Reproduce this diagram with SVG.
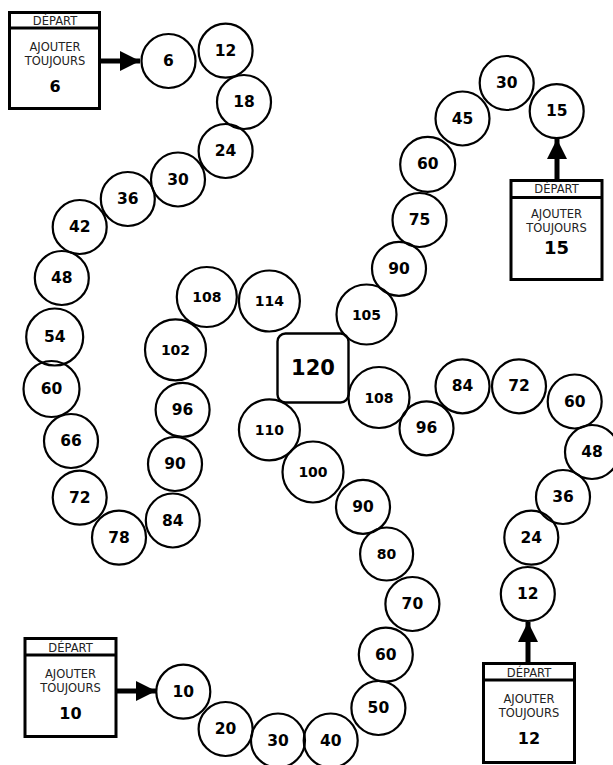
<svg xmlns="http://www.w3.org/2000/svg" width="613" height="765" viewBox="0 0 613 765">
<style>
.c{fill:none;stroke:#000;stroke-width:2.2}
.t{font-family:"DejaVu Sans",Verdana,sans-serif;font-weight:bold;font-size:15.5px;text-anchor:middle;dominant-baseline:central;fill:#000}
.t3{font-family:"DejaVu Sans",Verdana,sans-serif;font-weight:bold;font-size:14px;text-anchor:middle;dominant-baseline:central;fill:#000}
.box{fill:#fff;stroke:#000;stroke-width:3}
.hd{font-family:"DejaVu Sans",Verdana,sans-serif;font-size:11.5px;text-anchor:middle;fill:#222}
.lb{font-family:"DejaVu Sans",Verdana,sans-serif;font-size:11.5px;text-anchor:middle;fill:#222}
.num{font-family:"DejaVu Sans",Verdana,sans-serif;font-weight:bold;font-size:16px;text-anchor:middle;fill:#000}
.ar{stroke:#000;stroke-width:5;fill:none}
</style>
<defs>
<marker id="ah" markerWidth="4" markerHeight="4" refX="4" refY="2" orient="auto" markerUnits="strokeWidth">
<path d="M0,0 L4,2 L0,4 Z" fill="#000"/>
</marker>
</defs>
<rect width="613" height="765" fill="#fff"/>

<g id="connectors">
<line class="ar" x1="100" y1="61" x2="140" y2="61" marker-end="url(#ah)"/>
<line class="ar" x1="557" y1="180" x2="557" y2="139" marker-end="url(#ah)"/>
<line class="ar" x1="117" y1="691" x2="156" y2="691" marker-end="url(#ah)"/>
<line class="ar" x1="528" y1="663" x2="528" y2="622" marker-end="url(#ah)"/>
</g>

<g id="start6">
<rect class="box" x="9.5" y="12.5" width="90" height="96"/>
<line x1="9.5" y1="28" x2="99.5" y2="28" stroke="#000" stroke-width="3"/>
<text class="hd" x="55" y="25">DÉPART</text>
<text class="lb" x="55" y="51">AJOUTER</text>
<text class="lb" x="55" y="65">TOUJOURS</text>
<text class="num" x="55" y="92">6</text>
</g>
<g id="start15">
<rect class="box" x="511" y="180.5" width="91" height="99"/>
<line x1="511" y1="197.5" x2="602" y2="197.5" stroke="#000" stroke-width="3"/>
<text class="hd" x="556.5" y="193">DÉPART</text>
<text class="lb" x="556.5" y="218">AJOUTER</text>
<text class="lb" x="556.5" y="232">TOUJOURS</text>
<text class="num" x="556.5" y="254" style="font-size:18px">15</text>
</g>
<g id="start10">
<rect class="box" x="25" y="638.5" width="91" height="98"/>
<line x1="25" y1="655" x2="116" y2="655" stroke="#000" stroke-width="3"/>
<text class="hd" x="70.5" y="652">DÉPART</text>
<text class="lb" x="70.5" y="678">AJOUTER</text>
<text class="lb" x="70.5" y="692">TOUJOURS</text>
<text class="num" x="70.5" y="719">10</text>
</g>
<g id="start12">
<rect class="box" x="483.5" y="663.5" width="91" height="99"/>
<line x1="483.5" y1="680" x2="574.5" y2="680" stroke="#000" stroke-width="3"/>
<text class="hd" x="529" y="677">DÉPART</text>
<text class="lb" x="529" y="703">AJOUTER</text>
<text class="lb" x="529" y="717">TOUJOURS</text>
<text class="num" x="529" y="744">12</text>
</g>

<g id="center">
<rect x="277.5" y="333.5" width="71" height="69" rx="8" fill="none" stroke="#000" stroke-width="2.4"/>
<text class="t" x="313" y="368" style="font-size:21px">120</text>
</g>

<g id="path6">
<g id="n6a"><circle class="c" cx="168.5" cy="61" r="27"/><text class="t" x="168.5" y="61">6</text></g>
<g id="n6b"><circle class="c" cx="225.6" cy="50.7" r="27"/><text class="t" x="225.6" y="50.7">12</text></g>
<g id="n6c"><circle class="c" cx="244" cy="102" r="27"/><text class="t" x="244" y="102">18</text></g>
<g id="n6d"><circle class="c" cx="225.6" cy="151" r="27"/><text class="t" x="225.6" y="151">24</text></g>
<g id="n6e"><circle class="c" cx="178" cy="179.5" r="27"/><text class="t" x="178" y="179.5">30</text></g>
<g id="n6f"><circle class="c" cx="127.8" cy="199" r="27"/><text class="t" x="127.8" y="199">36</text></g>
<g id="n6g"><circle class="c" cx="79.7" cy="227" r="27"/><text class="t" x="79.7" y="227">42</text></g>
<g id="n6h"><circle class="c" cx="61.8" cy="278" r="27"/><text class="t" x="61.8" y="278">48</text></g>
<g id="n6i"><circle class="c" cx="54.7" cy="337" r="28.5"/><text class="t" x="54.7" y="337">54</text></g>
<g id="n6j"><circle class="c" cx="51.5" cy="389" r="28"/><text class="t" x="51.5" y="389">60</text></g>
<g id="n6k"><circle class="c" cx="71" cy="441" r="27"/><text class="t" x="71" y="441">66</text></g>
<g id="n6l"><circle class="c" cx="79.7" cy="497.6" r="27"/><text class="t" x="79.7" y="497.6">72</text></g>
<g id="n6m"><circle class="c" cx="119" cy="537.6" r="27"/><text class="t" x="119" y="537.6">78</text></g>
<g id="n6n"><circle class="c" cx="172.8" cy="520.5" r="27"/><text class="t" x="172.8" y="520.5">84</text></g>
<g id="n6o"><circle class="c" cx="175" cy="464" r="27"/><text class="t" x="175" y="464">90</text></g>
<g id="n6p"><circle class="c" cx="182.6" cy="409.8" r="27"/><text class="t" x="182.6" y="409.8">96</text></g>
<g id="n6q"><circle class="c" cx="175.5" cy="349.8" r="30.5"/><text class="t3" x="175.5" y="349.8">102</text></g>
<g id="n6r"><circle class="c" cx="206.8" cy="297" r="30"/><text class="t3" x="206.8" y="297">108</text></g>
<g id="n6s"><circle class="c" cx="269.4" cy="301" r="30.5"/><text class="t3" x="269.4" y="301">114</text></g>
</g>

<g id="path10">
<g id="n10a"><circle class="c" cx="183.3" cy="691.7" r="27"/><text class="t" x="183.3" y="691.7">10</text></g>
<g id="n10b"><circle class="c" cx="225.6" cy="729" r="27"/><text class="t" x="225.6" y="729">20</text></g>
<g id="n10c"><circle class="c" cx="278" cy="740.5" r="27"/><text class="t" x="278" y="740.5">30</text></g>
<g id="n10d"><circle class="c" cx="330.7" cy="740.5" r="27"/><text class="t" x="330.7" y="740.5">40</text></g>
<g id="n10e"><circle class="c" cx="378.4" cy="708" r="27"/><text class="t" x="378.4" y="708">50</text></g>
<g id="n10f"><circle class="c" cx="385.8" cy="654.6" r="27"/><text class="t" x="385.8" y="654.6">60</text></g>
<g id="n10g"><circle class="c" cx="412.4" cy="604" r="27"/><text class="t" x="412.4" y="604">70</text></g>
<g id="n10h"><circle class="c" cx="386.6" cy="554" r="26.5"/><text class="t3" x="386.6" y="554">80</text></g>
<g id="n10i"><circle class="c" cx="363" cy="506.8" r="27"/><text class="t" x="363" y="506.8">90</text></g>
<g id="n10j"><circle class="c" cx="313" cy="472" r="30.5"/><text class="t3" x="313" y="472">100</text></g>
<g id="n10k"><circle class="c" cx="269.4" cy="429.8" r="30.5"/><text class="t3" x="269.4" y="429.8">110</text></g>
</g>

<g id="path15">
<g id="n15a"><circle class="c" cx="556.7" cy="111.2" r="27"/><text class="t" x="556.7" y="111.2">15</text></g>
<g id="n15b"><circle class="c" cx="506.7" cy="83" r="27"/><text class="t" x="506.7" y="83">30</text></g>
<g id="n15c"><circle class="c" cx="462.5" cy="118.5" r="27"/><text class="t" x="462.5" y="118.5">45</text></g>
<g id="n15d"><circle class="c" cx="427.7" cy="164.4" r="27.5"/><text class="t" x="427.7" y="164.4">60</text></g>
<g id="n15e"><circle class="c" cx="419.5" cy="220" r="27"/><text class="t" x="419.5" y="220">75</text></g>
<g id="n15f"><circle class="c" cx="399" cy="268.8" r="27"/><text class="t" x="399" y="268.8">90</text></g>
<g id="n15g"><circle class="c" cx="366.5" cy="314.5" r="30"/><text class="t3" x="366.5" y="314.5">105</text></g>
</g>

<g id="path12">
<g id="n12a"><circle class="c" cx="527.8" cy="594" r="27"/><text class="t" x="527.8" y="594">12</text></g>
<g id="n12b"><circle class="c" cx="531.3" cy="537.6" r="27"/><text class="t" x="531.3" y="537.6">24</text></g>
<g id="n12c"><circle class="c" cx="563" cy="497" r="27"/><text class="t" x="563" y="497">36</text></g>
<g id="n12d"><circle class="c" cx="592" cy="452" r="27"/><text class="t" x="592" y="452">48</text></g>
<g id="n12e"><circle class="c" cx="574.7" cy="401.5" r="27"/><text class="t" x="574.7" y="401.5">60</text></g>
<g id="n12f"><circle class="c" cx="519" cy="386.3" r="27"/><text class="t" x="519" y="386.3">72</text></g>
<g id="n12g"><circle class="c" cx="462.5" cy="386.3" r="27"/><text class="t" x="462.5" y="386.3">84</text></g>
<g id="n12h"><circle class="c" cx="426.5" cy="428.3" r="27"/><text class="t" x="426.5" y="428.3">96</text></g>
<g id="n12i"><circle class="c" cx="379" cy="397.5" r="30.5"/><text class="t3" x="379" y="397.5">108</text></g>
</g>
</svg>
